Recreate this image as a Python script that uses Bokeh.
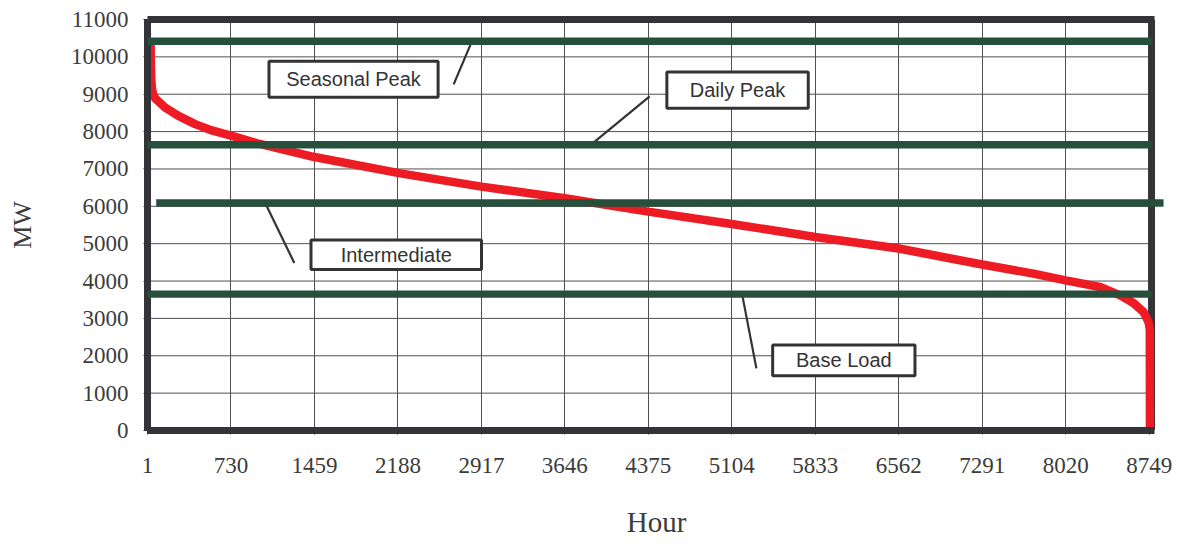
from bokeh.plotting import figure
from bokeh.models import FixedTicker, BoxAnnotation, ColumnDataSource, LinearAxis
from bokeh.core.properties import value
from bokeh.embed import file_html
from bokeh.resources import INLINE

# ---- data ----
hours = [28, 30, 34, 40, 50, 70, 156, 271, 417, 563, 730, 971, 1459, 2210, 2917,
         3646, 4375, 5104, 5833, 6562, 7291, 7739, 8020, 8321, 8496, 8612, 8700,
         8744, 8755, 8756]
load_mw = [10360, 9900, 9400, 9150, 9000, 8880, 8640, 8420, 8200, 8030, 7890, 7677,
           7319, 6883, 6528, 6215, 5859, 5528, 5180, 4870, 4443, 4197, 4018, 3840,
           3618, 3413, 3172, 2900, 2700, 0]

x_ticks = [1, 730, 1459, 2188, 2917, 3646, 4375, 5104, 5833, 6562, 7291, 8020, 8749]
y_ticks = [0, 1000, 2000, 3000, 4000, 5000, 6000, 7000, 8000, 9000, 10000, 11000]

band_names = ["Seasonal Peak", "Daily Peak", "Intermediate", "Base Load"]
band_levels = [10420, 7650, 6090, 3650]

# ---- layout (data coordinates) ----
x_start, x_border, x_view_end = 1, 8770, 8892
y_start, y_end = 0, 11000
band_start = [None, None, 77, None]
band_end = [x_border, x_border, 8875, x_border]
box_left = [1062, 4537, 1429, 5461]
box_right = [2539, 5772, 2918, 6704]
box_bottom = [8920, 8626, 4312, 1462]
box_top = [9882, 9596, 5098, 2291]
lead_x0 = [2675, 4387, 1283, 5319]
lead_y0 = [9262, 8942, 4485, 1663]
lead_x1 = [2835, 3875, 1029, 5194]

FRAME = "#333338"
TXT = "#3c3c3c"
W, H = 1175, 540
p = figure(width=W, height=H, x_range=(x_start, x_view_end), y_range=(y_start, y_end),
           output_backend="svg", toolbar_location=None,
           min_border_left=147, min_border_right=10,
           min_border_top=19, min_border_bottom=110)
p.background_fill_color = "white"
p.border_fill_color = "white"
p.outline_line_color = None

p.xaxis.ticker = FixedTicker(ticks=x_ticks)
p.yaxis.ticker = FixedTicker(ticks=y_ticks)
for ax in (p.xaxis[0], p.yaxis[0]):
    ax.axis_line_color = FRAME
    ax.axis_line_width = 7
    ax.major_tick_out = 4
    ax.major_tick_in = 0
    ax.minor_tick_line_color = None
    ax.major_tick_line_color = "#333333"
    ax.major_label_text_font = "Liberation Serif"
    ax.major_label_text_font_size = "23px"
    ax.major_label_text_color = TXT
    ax.axis_label_text_font = "Liberation Serif"
    ax.axis_label_text_font_style = "normal"
    ax.axis_label_text_color = TXT
p.xaxis.bounds = (x_start, 8800)
p.yaxis.bounds = (-94, 11094)
p.xaxis.major_label_standoff = 23
p.yaxis.major_label_standoff = 15
p.xaxis.axis_label = "Hour"
p.yaxis.axis_label = "MW"
p.xaxis.axis_label_text_font_size = "29px"
p.yaxis.axis_label_text_font_size = "26px"
p.xaxis.axis_label_standoff = 30
p.yaxis.axis_label_standoff = 31

top_axis = LinearAxis(ticker=FixedTicker(ticks=[]), major_tick_out=0, major_tick_in=0,
                      minor_tick_out=0, minor_tick_in=0,
                      major_label_text_font_size="0px",
                      axis_line_color=FRAME, axis_line_width=7, bounds=(x_start, 8800))
p.add_layout(top_axis, "above")

p.xgrid.grid_line_color = "#505050"
p.xgrid.grid_line_width = 1
p.ygrid.visible = False

# horizontal grid lines (stop at the right border)
p.segment(x0=[x_start] * len(y_ticks), y0=y_ticks, x1=[x_border] * len(y_ticks),
          y1=y_ticks, line_color="#505050", line_width=1)

# right border
p.segment(x0=[x_border], y0=[y_start], x1=[x_border], y1=[y_end],
          line_color=FRAME, line_width=7)

# load duration curve
p.line(hours, load_mw, line_color="#ed1c24", line_width=8.5)

# leader lines
p.segment(x0=lead_x0, y0=lead_y0, x1=lead_x1, y1=band_levels,
          line_color="#333333", line_width=2.2)

# call-out boxes
src = ColumnDataSource(dict(
    left=box_left, right=box_right, bottom=box_bottom, top=box_top,
    tx=[(a + b) / 2 for a, b in zip(box_left, box_right)],
    ty=[(a + b) / 2 for a, b in zip(box_bottom, box_top)],
    name=band_names))
p.quad(left="left", right="right", bottom="bottom", top="top", source=src,
       fill_color="white", line_color="#333333", line_width=3)
p.text(x="tx", y="ty", text="name", source=src, text_align="center",
       text_baseline="middle", text_font=value("Liberation Sans"),
       text_font_size="20px", text_color="#333333")

# load bands (thick horizontal lines)
half = 100
for lvl, s, e in zip(band_levels, band_start, band_end):
    p.add_layout(BoxAnnotation(left=s, right=e, bottom=lvl - half, top=lvl + half,
                               fill_color="#27503c", fill_alpha=1,
                               line_color=None))

open("out.html", "w").write(file_html(p, INLINE))
